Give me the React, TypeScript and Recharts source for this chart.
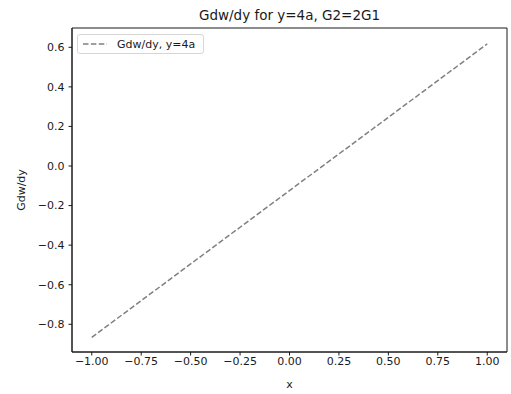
import { LineChart, Line, XAxis, YAxis, ReferenceArea } from 'recharts'

const xs = [-1, -0.5, 0, 0.5, 1]
const gdwdy = [-0.866, -0.495, -0.124, 0.246, 0.617]
const xTicks = [-1, -0.75, -0.5, -0.25, 0, 0.25, 0.5, 0.75, 1]
const yTicks = [-0.8, -0.6, -0.4, -0.2, 0, 0.2, 0.4, 0.6]

const data = xs.map((x, i) => ({ x, g: gdwdy[i] }))

const font = 'DejaVu Sans, sans-serif'
const ink = '#1a1a1a'
const fmt = (d: number) => (v: number) => {
  const s = Math.abs(v).toFixed(d)
  return v < -1e-9 ? '\u2212' + s : s
}

const X_DOM: [number, number] = [-1.1, 1.1]
const Y_DOM: [number, number] = [-0.94, 0.6975]

function LegendBox() {
  return (
    <div
      style={{
        position: 'absolute',
        left: 77,
        top: 34,
        height: 20,
        boxSizing: 'border-box',
        border: '1px solid #d6d6d6',
        borderRadius: 3,
        background: 'white',
        display: 'flex',
        alignItems: 'center',
        padding: '0 8px 0 4px',
        fontFamily: font,
        fontSize: 11,
        color: ink,
      }}
    >
      <svg width={26} height={8} style={{ marginRight: 9 }}>
        <line x1={1} y1={4} x2={25} y2={4} stroke="#808080" strokeWidth={1.5} strokeDasharray="5.5 2.4" />
      </svg>
      <span>Gdw/dy, y=4a</span>
    </div>
  )
}

export default function App() {
  return (
    <div style={{ position: 'absolute', left: 0, top: 0, width: 511, height: 394, background: 'white' }}>
      <LineChart width={511} height={394} data={data} margin={{ top: 28, right: 4, left: 0, bottom: 0 }}>
        <text x={289.5} y={20} textAnchor="middle" fontFamily={font} fontSize={13.5} fill={ink}>
          Gdw/dy for y=4a, G2=2G1
        </text>
        <XAxis
          dataKey="x"
          type="number"
          domain={X_DOM}
          ticks={xTicks}
          tickFormatter={fmt(2)}
          height={42}
          stroke={ink}
          tickSize={3.5}
          tick={{ fontFamily: font, fontSize: 11, fill: ink }}
          label={{ value: 'x', position: 'insideBottom', offset: 6, fontFamily: font, fontSize: 11, fill: ink }}
          allowDataOverflow
        />
        <YAxis
          type="number"
          domain={Y_DOM}
          ticks={yTicks}
          tickFormatter={fmt(1)}
          width={72}
          stroke={ink}
          tickSize={3.5}
          tick={{ fontFamily: font, fontSize: 11, fill: ink, dx: -2 }}
          label={{ value: 'Gdw/dy', angle: -90, position: 'insideLeft', offset: 21, fontFamily: font, fontSize: 11, fill: ink, style: { textAnchor: 'middle' } }}
          allowDataOverflow
        />
        <ReferenceArea x1={X_DOM[0]} x2={X_DOM[1]} y1={Y_DOM[0]} y2={Y_DOM[1]} fill="none" stroke={ink} strokeWidth={1} ifOverflow="visible" />
        <Line
          dataKey="g"
          stroke="#808080"
          strokeWidth={1.5}
          strokeDasharray="5.5 2.4"
          dot={false}
          isAnimationActive={false}
        />
      </LineChart>
      <LegendBox />
    </div>
  )
}
